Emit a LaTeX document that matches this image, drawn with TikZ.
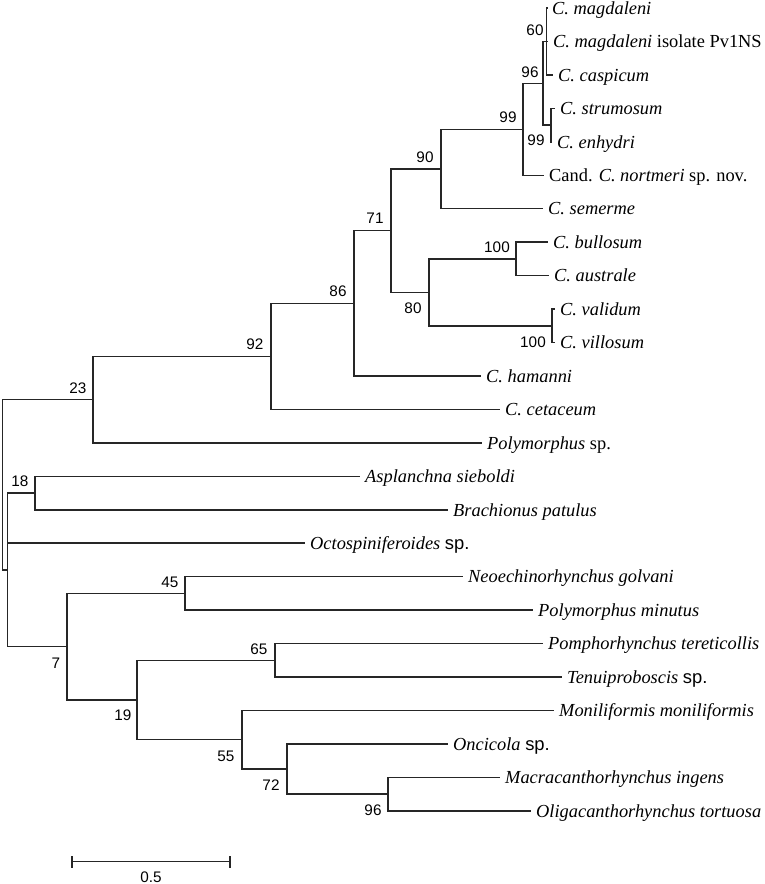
\documentclass[tikz,border=0pt]{standalone}
\usepackage{fontspec}
\setmainfont{Liberation Serif}
\newfontfamily\arialf{Liberation Sans}
\newcommand{\leaffont}{\fontsize{18.4}{20}\selectfont\itshape}
\newcommand{\bsfont}{\arialf\fontsize{15.3}{16}\selectfont}
\newcommand{\spf}[1]{{\arialf\upshape #1}}
\begin{document}
\begin{tikzpicture}[x=1pt,y=-1pt,
  br/.style={line width=1.5pt, line join=miter, black!85},
  leaf/.style={anchor=west, inner xsep=5pt, inner ysep=0pt, text height=12.5pt, text depth=0pt, font=\leaffont},
  bs/.style={inner sep=0pt, font=\bsfont}]
\useasboundingbox (0,0) rectangle (764,884);
% leaves
\node[leaf] (L1)  at (547,8)      {C. magdaleni};
\node[leaf] (L2)  at (548,41.45)  {C. magdaleni \textup{isolate Pv1NS}};
\node[leaf] (L3)  at (553,74.9)   {C. caspicum};
\node[leaf] (L4)  at (555,108.35) {C. strumosum};
\node[leaf] (L5)  at (552,141.8)  {C. enhydri};
\node[leaf] (L6)  at (544,175.25) {\textup{Cand.} C. nortmeri \textup{sp. nov.}};
\node[leaf] (L7)  at (543,208.7)  {C. semerme};
\node[leaf] (L8)  at (548,242.15) {C. bullosum};
\node[leaf] (L9)  at (549,275.6)  {C. australe};
\node[leaf] (L10) at (555,309.05) {C. validum};
\node[leaf] (L11) at (555,342.5)  {C. villosum};
\node[leaf] (L12) at (481,375.95) {C. hamanni};
\node[leaf] (L13) at (500,409.4)  {C. cetaceum};
\node[leaf] (L14) at (482,442.85) {Polymorphus \textup{sp.}};
\node[leaf] (L15) at (360,476.3)  {Asplanchna sieboldi};
\node[leaf] (L16) at (448,509.75) {Brachionus patulus};
\node[leaf] (L17) at (305,543.2)  {Octospiniferoides \spf{sp.}};
\node[leaf] (L18) at (463,576.65) {Neoechinorhynchus golvani};
\node[leaf] (L19) at (533,610.1)  {Polymorphus minutus};
\node[leaf] (L20) at (543,643.55) {Pomphorhynchus tereticollis};
\node[leaf] (L21) at (562,677)    {Tenuiproboscis \spf{sp.}};
\node[leaf] (L22) at (554,710.45) {Moniliformis moniliformis};
\node[leaf] (L23) at (448,743.9)  {Oncicola \spf{sp.}};
\node[leaf] (L24) at (500,777.35) {Macracanthorhynchus ingens};
\node[leaf] (L25) at (531,810.8)  {Oligacanthorhynchus tortuosa};
% internal nodes
\coordinate (R)    at (2.5,484.73);
\coordinate (nX)   at (7.5,569.86);
\coordinate (n18)  at (35,493.03);
\coordinate (n23)  at (93,399.6);
\coordinate (n92)  at (271,356.35);
\coordinate (n86)  at (354,303.3);
\coordinate (n71)  at (391,230.65);
\coordinate (n90)  at (441,168.98);
\coordinate (n99a) at (523,129.26);
\coordinate (n96)  at (543,83.26);
\coordinate (n60)  at (546.5,41.45);
\coordinate (n99b) at (551,125.08);
\coordinate (n80)  at (429,292.33);
\coordinate (n100a) at (516,258.88);
\coordinate (n100b) at (552,325.78);
\coordinate (n7)   at (67,646.69);
\coordinate (n45)  at (185,593.38);
\coordinate (n19)  at (137,700);
\coordinate (n65)  at (275,660.28);
\coordinate (n55)  at (242,739.72);
\coordinate (n72)  at (287,768.99);
\coordinate (n96b) at (388,794.08);
% branches
\draw[br] (R) |- (n23);
\draw[br] (R) |- (nX);
\draw[br] (nX) |- (n18);
\draw[br] (nX) |- (L17.west);
\draw[br] (nX) |- (n7);
\draw[br] (n18) |- (L15.west);
\draw[br] (n18) |- (L16.west);
\draw[br] (n23) |- (n92);
\draw[br] (n23) |- (L14.west);
\draw[br] (n92) |- (n86);
\draw[br] (n92) |- (L13.west);
\draw[br] (n86) |- (n71);
\draw[br] (n86) |- (L12.west);
\draw[br] (n71) |- (n90);
\draw[br] (n71) |- (n80);
\draw[br] (n90) |- (n99a);
\draw[br] (n90) |- (L7.west);
\draw[br] (n99a) |- (n96);
\draw[br] (n99a) |- (L6.west);
\draw[br] (n96) |- (n60);
\draw[br] (n96) |- (n99b);
\draw[br] (n60) |- (L1.west);
\draw[br] (n60) |- (L2.west);
\draw[br] (n60) |- (L3.west);
\draw[br] (n99b) |- (L4.west);
\draw[br] (n99b) |- (L5.west);
\draw[br] (n80) |- (n100a);
\draw[br] (n80) |- (n100b);
\draw[br] (n100a) |- (L8.west);
\draw[br] (n100a) |- (L9.west);
\draw[br] (n100b) |- (L10.west);
\draw[br] (n100b) |- (L11.west);
\draw[br] (n7) |- (n45);
\draw[br] (n7) |- (n19);
\draw[br] (n45) |- (L18.west);
\draw[br] (n45) |- (L19.west);
\draw[br] (n19) |- (n65);
\draw[br] (n19) |- (n55);
\draw[br] (n65) |- (L20.west);
\draw[br] (n65) |- (L21.west);
\draw[br] (n55) |- (L22.west);
\draw[br] (n55) |- (n72);
\draw[br] (n72) |- (L23.west);
\draw[br] (n72) |- (n96b);
\draw[br] (n96b) |- (L24.west);
\draw[br] (n96b) |- (L25.west);
% bootstrap values
\node[bs] (b60)  at (535,30)  {60};
\node[bs] (b96)  at (530,72)  {96};
\node[bs] (b99a) at (508,117) {99};
\node[bs] (b99b) at (536,140) {99};
\node[bs] (b90)  at (425,157) {90};
\node[bs] (b71)  at (375,218) {71};
\node[bs] (b86)  at (338,291) {86};
\node[bs] (b100a) at (497,247) {100};
\node[bs] (b80)  at (413,308) {80};
\node[bs] (b100b) at (533,342) {100};
\node[bs] (b92)  at (255,344) {92};
\node[bs] (b23)  at (78,388)  {23};
\node[bs] (b18)  at (20,481)  {18};
\node[bs] (b45)  at (170,582) {45};
\node[bs] (b7)   at (56,663)  {7};
\node[bs] (b65)  at (259,649) {65};
\node[bs] (b19)  at (123,715) {19};
\node[bs] (b55)  at (226,756) {55};
\node[bs] (b72)  at (271,785) {72};
\node[bs] (b96b) at (373,810) {96};
% scale bar
\coordinate (sbA) at (72,861.5);
\coordinate (sbB) at (230,861.5);
\draw[br] (sbA) -- (sbB);
\draw[br] ([yshift=-6pt]sbA) -- ([yshift=6pt]sbA);
\draw[br] ([yshift=-6pt]sbB) -- ([yshift=6pt]sbB);
\node[bs] (sbl) at (151,877) {0.5};
\end{tikzpicture}
\end{document}
